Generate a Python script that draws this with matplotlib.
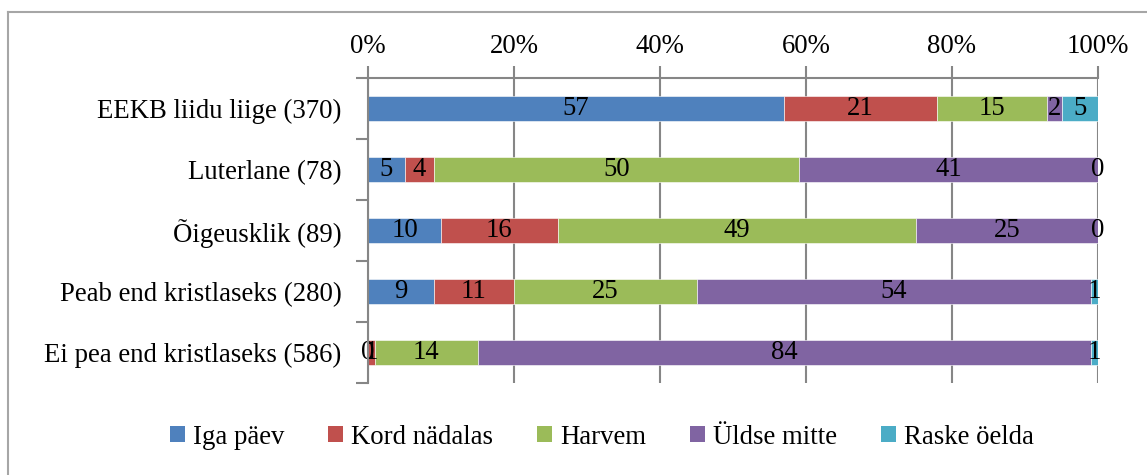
import matplotlib
matplotlib.use("Agg")
import matplotlib.pyplot as plt
from matplotlib.patches import Patch
from matplotlib.lines import Line2D

categories = ["EEKB liidu liige (370)", "Luterlane (78)", "Õigeusklik (89)",
              "Peab end kristlaseks (280)", "Ei pea end kristlaseks (586)"]
series_names = ["Iga päev", "Kord nädalas", "Harvem", "Üldse mitte", "Raske öelda"]
iga_paev = [57, 5, 10, 9, 0]
kord_nadalas = [21, 4, 16, 11, 1]
harvem = [15, 50, 49, 25, 14]
uldse_mitte = [2, 41, 25, 54, 84]
raske_oelda = [5, 0, 0, 1, 1]
xticks = [0, 20, 40, 60, 80, 100]
xtick_labels = ["0%", "20%", "40%", "60%", "80%", "100%"]

colors = ["#4F81BD", "#C0504D", "#9BBB59", "#8064A2", "#4BACC6"]
series = [iga_paev, kord_nadalas, harvem, uldse_mitte, raske_oelda]

FONT = "Liberation Serif"
FS = 19.3
plt.rcParams["font.family"] = [FONT, "DejaVu Serif"]

fig = plt.figure(figsize=(11.47, 4.75), dpi=100)
ax = fig.add_axes([368/1147, 1-383/475, 730/1147, 305/475])

ypos = list(range(len(categories)))
left = [0]*len(categories)
for vals, col in zip(series, colors):
    ax.barh(ypos, vals, left=left, height=0.4, color=col,
            edgecolor="white", linewidth=0.4, zorder=3)
    for y, v, l in zip(ypos, vals, left):
        ax.text(l + v/2, y, str(v), ha="center", va="center",
                fontsize=FS, color="black", zorder=4)
    left = [a + b for a, b in zip(left, vals)]

ax.set_xlim(0, 100)
ax.set_ylim(len(categories)-0.5, -0.5)
ax.set_yticks([y - 0.5 for y in range(len(categories)+1)], minor=False)
ax.set_yticklabels([])
ax.set_yticks(ypos, minor=True)
ax.set_yticklabels(categories, minor=True, fontsize=FS)
ax.tick_params(axis="y", which="major", length=9, width=1.5, color="#868686", direction="out")
ax.tick_params(axis="y", which="minor", length=0, pad=19)

ax.xaxis.tick_top()
ax.set_xticks(xticks)
ax.set_xticklabels(xtick_labels, fontsize=FS)
ax.tick_params(axis="x", length=9, width=1.5, color="#868686", direction="out", pad=5)
ax.grid(axis="x", color="#868686", linewidth=1.5, zorder=0)

for s in ["right", "bottom"]:
    ax.spines[s].set_visible(False)
ax.spines["top"].set_color("#868686")
ax.spines["top"].set_linewidth(1.5)
ax.spines["left"].set_color("#868686")
ax.spines["left"].set_linewidth(1.5)
ax.spines["left"].set_zorder(5)

handles = [Patch(facecolor=c, edgecolor="none") for c in colors]
fig.legend(handles, series_names, loc="center", bbox_to_anchor=(602/1147, 1-437/475),
           ncol=5, frameon=False, fontsize=FS, handlelength=0.55, handleheight=0.55,
           handletextpad=0.3, columnspacing=1.65)

# chart border (top and left visible)
fig.add_artist(Line2D([8/1147, 1], [1-12/475, 1-12/475], color="#A6A6A6", linewidth=1.5))
fig.add_artist(Line2D([8/1147, 8/1147], [0, 1-12/475], color="#A6A6A6", linewidth=1.5))

fig.savefig("out.png", dpi=100)
